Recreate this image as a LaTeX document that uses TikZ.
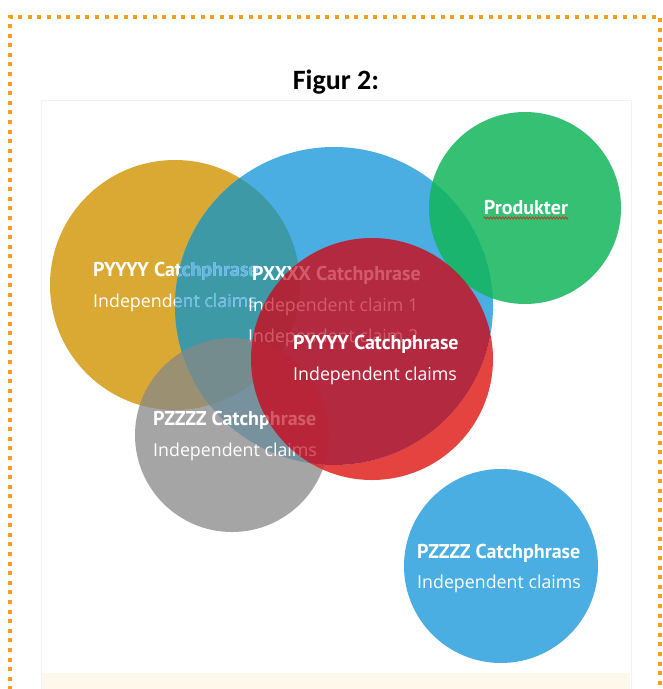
\documentclass[tikz,border=0pt]{standalone}
\usepackage{fontspec}
\setmainfont{Open Sans}
\newfontfamily\catchfont{PT Sans}
\newfontfamily\titlefont{Carlito}
\usetikzlibrary{decorations.pathmorphing}
\definecolor{cgold}{HTML}{DAA934}
\definecolor{cblue}{HTML}{4BAEE2}
\definecolor{cteal}{HTML}{3D99A6}
\definecolor{cgray}{HTML}{888888}
\definecolor{cgreen}{HTML}{12B65B}
\definecolor{credA}{HTML}{E12A25}
\definecolor{credB}{HTML}{C1172A}
\definecolor{chidblue}{HTML}{62B6E6}
\definecolor{corange}{HTML}{F59E1B}
\definecolor{cpanel}{HTML}{F2F2F2}
\definecolor{ccream}{HTML}{FEF7EC}
\definecolor{csquig}{HTML}{C0392B}
\newcommand\txtGoldA{PYYYY Catchphrase}
\newcommand\txtGoldB{Independent claims}
\newcommand\txtBlueA{PXXXX Catchphrase}
\newcommand\txtBlueB{Independent claim 1}
\newcommand\txtBlueC{Independent claim 2}
\newcommand\txtGrayA{PZZZZ Catchphrase}
\newcommand\txtGrayB{Independent claims}
\begin{document}
\begin{tikzpicture}[x=1pt,y=-1pt,
  catchtxt/.style={font=\catchfont\bfseries\fontsize{20}{22}\selectfont, anchor=base west, inner sep=0pt, text=white},
  claimtxt/.style={font=\fontsize{17.8}{20}\selectfont, anchor=base west, inner sep=0pt, text=white},
  hidtxt/.style={text=white, text opacity=0.2}]
\useasboundingbox (0,0) rectangle (663,689);
\fill[white] (0,0) rectangle (663,689);
% panel
\draw[cpanel, line width=1pt] (41,100) rectangle (631,700);
\fill[ccream] (42,673) rectangle (630,689);
% orange dotted frame
\draw[corange, line width=4pt, dash pattern=on 4pt off 5.6pt] (10,700) -- (10,17) -- (660,17) -- (660,700);
% title
\node[font=\titlefont\bfseries\fontsize{28}{30}\selectfont, anchor=base, inner sep=0pt] (title) at (336,89) {Figur 2:};
% gold circle
\fill[cgold] (175,285) circle[radius=125pt];
% blue circle
\fill[cblue] (334,306) circle[radius=159pt];
\begin{scope}
  \clip (334,306) circle[radius=159pt];
  \fill[cteal] (175,285) circle[radius=125pt];
\end{scope}
% gold texts
\node[catchtxt] (goldA) at (93,276) {\txtGoldA};
\node[claimtxt] (goldB) at (93,307) {\txtGoldB};
\begin{scope}
  \clip (334,306) circle[radius=159pt];
  \node[catchtxt, text=chidblue] (goldAh) at (93,276) {\txtGoldA};
  \node[claimtxt, text=chidblue] (goldBh) at (93,307) {\txtGoldB};
\end{scope}
% blue texts
\node[catchtxt] (blueA) at (252,280) {\txtBlueA};
\node[claimtxt] (blueB) at (248,311) {\txtBlueB};
\node[claimtxt] (blueC) at (248,342) {\txtBlueC};
% gray circle
\fill[cgray, opacity=0.75] (232,435) circle[radius=97pt];
\node[catchtxt] (grayA) at (153,425) {\txtGrayA};
\node[claimtxt] (grayB) at (153,456) {\txtGrayB};
% green circle
\fill[cgreen, opacity=0.85] (525,208) circle[radius=96pt];
\node[catchtxt, anchor=base] (prod) at (526,214) {Produkter};
\draw[csquig, line width=0.8pt, decorate, decoration={snake, amplitude=1pt, segment length=3pt}] (prod.base west) ++(0,4) -- ([yshift=-4pt]prod.base east);
% red circle
\begin{scope}
  \clip (372,359) circle[radius=121pt];
  \fill[credA, opacity=0.88, even odd rule] (334,306) circle[radius=159pt] (200,200) rectangle (550,550);
  \fill[credB, opacity=0.88] (334,306) circle[radius=159pt];
  \node[catchtxt, hidtxt] (blueAh) at (252,280) {\txtBlueA};
  \node[claimtxt, hidtxt] (blueBh) at (248,311) {\txtBlueB};
  \node[claimtxt, hidtxt] (blueCh) at (248,342) {\txtBlueC};
  \node[catchtxt, hidtxt] (grayAh) at (153,425) {\txtGrayA};
  \node[claimtxt, hidtxt] (grayBh) at (153,456) {\txtGrayB};
\end{scope}
\node[catchtxt] (redA) at (293,349) {PYYYY Catchphrase};
\node[claimtxt] (redB) at (293,380) {Independent claims};
% small blue circle
\fill[cblue] (501,566) circle[radius=97pt];
\node[catchtxt] (sblueA) at (417,558) {PZZZZ Catchphrase};
\node[claimtxt] (sblueB) at (417,588) {Independent claims};
\end{tikzpicture}
\end{document}
